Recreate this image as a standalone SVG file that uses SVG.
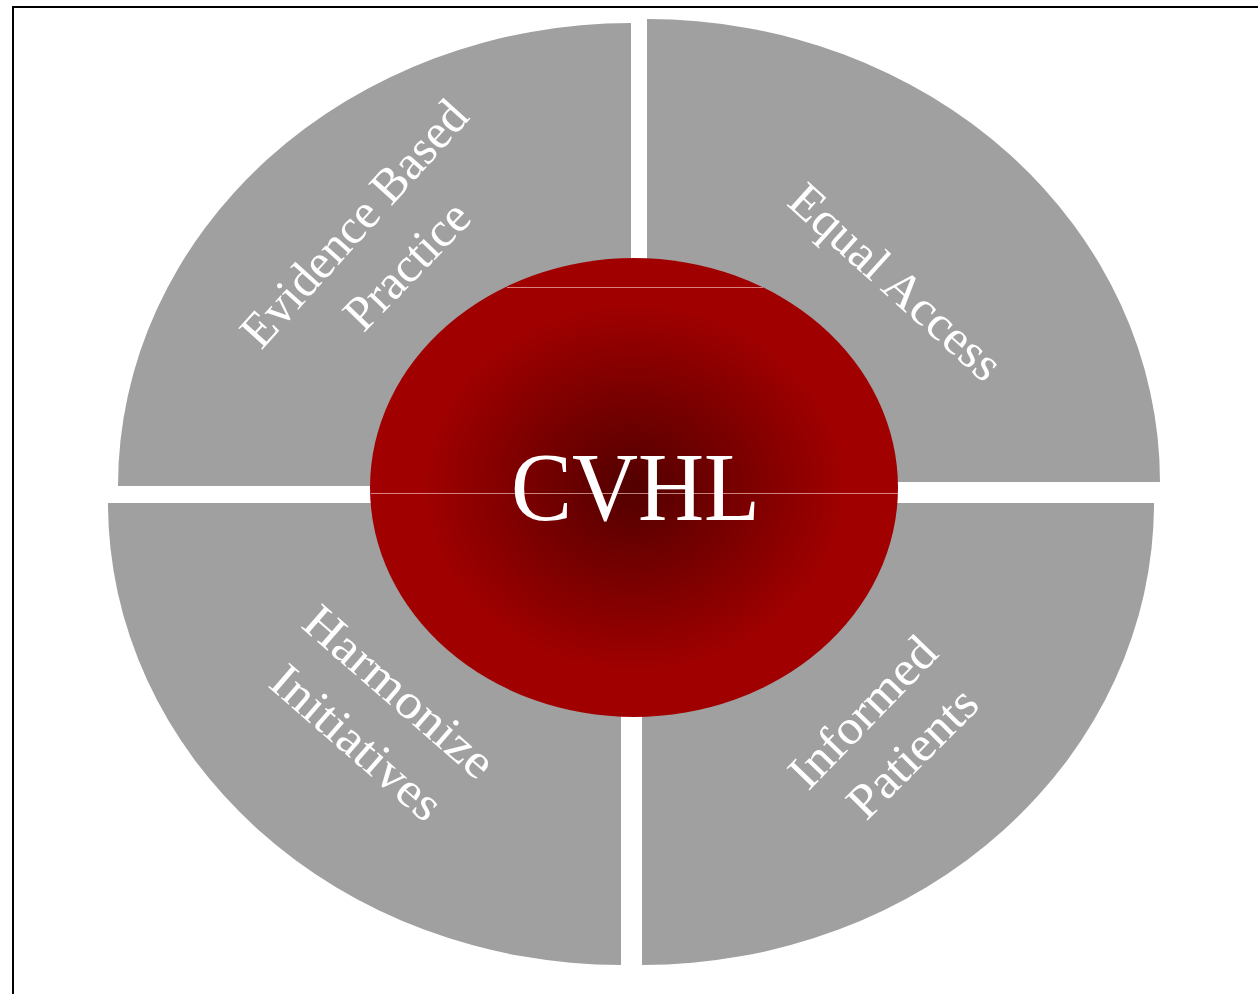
<svg xmlns="http://www.w3.org/2000/svg" width="1258" height="994" viewBox="0 0 1258 994">
  <defs>
    <radialGradient id="redGrad" cx="0.5" cy="0.5" r="0.5">
      <stop offset="0" stop-color="#520000"/>
      <stop offset="0.8" stop-color="#A00000"/>
      <stop offset="1" stop-color="#A00000"/>
    </radialGradient>
  </defs>
  <style>
    .sector { fill: #A0A0A0; }
    .label { font-family: "Liberation Serif", "Times New Roman", serif; font-size: 49px; fill: #FFFFFF; text-anchor: middle; }
    .center { font-family: "Liberation Serif", "Times New Roman", serif; font-size: 98px; fill: #FFFFFF; text-anchor: middle; }
    .seam { stroke: #F0B8B8; stroke-width: 1; stroke-opacity: 0.7; fill: none; }
  </style>
  <rect x="0" y="0" width="1258" height="994" fill="#FFFFFF"/>
  <path d="M13,994 L13,7 L1258,7" fill="none" stroke="#000000" stroke-width="2"/>

  <g id="evidence-based-practice">
    <path class="sector" d="M631,486 L118,486 A513,463 0 0 1 631,23 Z"/>
    <text class="label" transform="translate(366,234.4) rotate(-48)" textLength="313" lengthAdjust="spacingAndGlyphs">Evidence Based</text>
    <text class="label" transform="translate(418.5,276.6) rotate(-46)" textLength="158" lengthAdjust="spacingAndGlyphs">Practice</text>
  </g>

  <g id="equal-access">
    <path class="sector" d="M647,482 L647,19 A513,463 0 0 1 1160,482 Z"/>
    <text class="label" transform="translate(885,294) rotate(42)" textLength="268" lengthAdjust="spacingAndGlyphs">Equal Access</text>
  </g>

  <g id="informed-patients">
    <path class="sector" d="M642,503 L1154,503 A512,462 0 0 1 642,965 Z"/>
    <text class="label" transform="translate(874.2,723.5) rotate(-46)" textLength="190" lengthAdjust="spacingAndGlyphs">Informed</text>
    <text class="label" transform="translate(923.8,764.2) rotate(-45)" textLength="163" lengthAdjust="spacingAndGlyphs">Patients</text>
  </g>

  <g id="harmonize-initiatives">
    <path class="sector" d="M621,503 L621,965 A513,462 0 0 1 108,503 Z"/>
    <text class="label" transform="translate(388.7,704) rotate(41)" textLength="236" lengthAdjust="spacingAndGlyphs">Harmonize</text>
    <text class="label" transform="translate(346.1,754.7) rotate(41)" textLength="210" lengthAdjust="spacingAndGlyphs">Initiatives</text>
  </g>

  <g id="cvhl">
    <ellipse cx="634" cy="487.5" rx="264" ry="229.5" fill="url(#redGrad)"/>
    <line class="seam" x1="507" y1="287.5" x2="763" y2="287.5"/>
    <line class="seam" x1="371" y1="493.5" x2="898" y2="493.5"/>
    <text class="center" x="635.5" y="520" textLength="249" lengthAdjust="spacingAndGlyphs">CVHL</text>
  </g>
</svg>
